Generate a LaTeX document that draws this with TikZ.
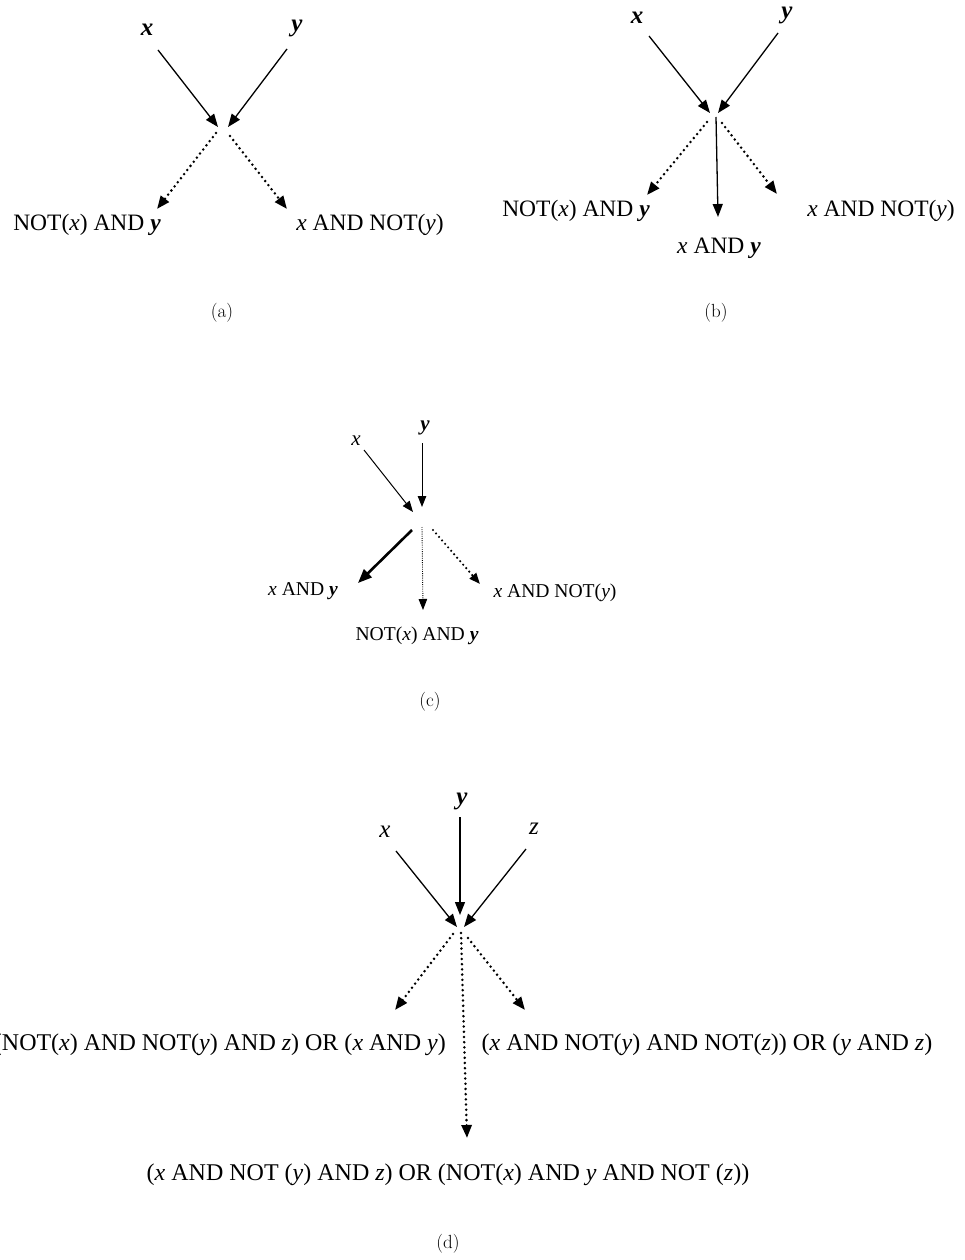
\documentclass[tikz,border=0pt]{standalone}
\usepackage{fontspec}
\newfontfamily\tnr{Liberation Serif}
\usetikzlibrary{arrows.meta}
\newcommand{\iv}[1]{{\itshape #1}}
\newcommand{\bv}[1]{{\bfseries\itshape #1}}
\begin{document}
\begin{tikzpicture}[x=1pt,y=-1pt,
  lab/.style={font={\tnr\fontsize{23.5}{26}\selectfont}, inner sep=0pt},
  labc/.style={font={\tnr\fontsize{19.6}{22}\selectfont}, inner sep=0pt},
  labd/.style={font={\tnr\fontsize{24}{27}\selectfont}, inner sep=0pt},
  var/.style={font={\tnr\fontsize{25}{27}\selectfont}, inner sep=0pt},
  varc/.style={font={\tnr\fontsize{21}{23}\selectfont}, inner sep=0pt},
  capt/.style={font={\fontsize{19}{21}\selectfont}, inner sep=0pt},
  tipbig/.style={-{Triangle[length=13pt,width=10pt]}},
  tipsmall/.style={-{Triangle[length=11pt,width=8.5pt]}},
  solidarr/.style={tipbig, line width=1.3pt},
  dotarr/.style={tipbig, line width=2.8pt, line cap=round, dash pattern=on 0pt off 5.2pt},
  solidarrc/.style={tipsmall, line width=1pt},
  dotarrc/.style={tipsmall, line width=2.4pt, line cap=round, dash pattern=on 0pt off 4.6pt},
  thinarrc/.style={tipsmall, line width=0.9pt, dash pattern=on 0.9pt off 1.3pt},
  thickarrc/.style={-{Triangle[length=14pt,width=11pt]}, line width=2.6pt},
]
\useasboundingbox (0,0) rectangle (964,1260);

% ---------------- (a) ----------------
\node[var] (ax) at (147,30) {\bv{x}};
\node[var] (ay) at (297,28) {\bv{y}};
\node[lab] (al) at (87,225) {NOT(\iv{x}) AND \bv{y}};
\node[lab] (ar) at (370,225) {\iv{x} AND NOT(\iv{y})};
\node[capt] (acap) at (222,313) {(a)};
\coordinate (axs) at (158,50);  \coordinate (axe) at (218,127);
\coordinate (ays) at (287,49);  \coordinate (aye) at (228,127);
\coordinate (als) at (216,133); \coordinate (ale) at (157,209);
\coordinate (ars) at (230,136); \coordinate (are) at (287,209);
\draw[solidarr] (axs) -- (axe);
\draw[solidarr] (ays) -- (aye);
\draw[dotarr] (als) -- (ale);
\draw[dotarr] (ars) -- (are);

% ---------------- (b) ----------------
\node[var] (bx) at (637,18) {\bv{x}};
\node[var] (by) at (787,15) {\bv{y}};
\node[lab] (bl) at (576,211) {NOT(\iv{x}) AND \bv{y}};
\node[lab] (bm) at (719,248) {\iv{x} AND \bv{y}};
\node[lab] (br) at (881,211) {\iv{x} AND NOT(\iv{y})};
\node[capt] (bcap) at (716,313) {(b)};
\coordinate (bxs) at (649,36);  \coordinate (bxe) at (710,113);
\coordinate (bys) at (778,33);  \coordinate (bye) at (718,113);
\coordinate (bms) at (716,117); \coordinate (bme) at (718,217);
\coordinate (bls) at (707,122); \coordinate (ble) at (647,195);
\coordinate (brs) at (722,123); \coordinate (bre) at (777,194);
\draw[solidarr] (bxs) -- (bxe);
\draw[solidarr] (bys) -- (bye);
\draw[solidarr] (bms) -- (bme);
\draw[dotarr] (bls) -- (ble);
\draw[dotarr] (brs) -- (bre);

% ---------------- (c) ----------------
\node[varc] (cx) at (356,441) {\iv{x}};
\node[varc] (cy) at (425,428) {\bv{y}};
\node[labc] (cl) at (303,591) {\iv{x} AND \bv{y}};
\node[labc] (cm) at (417,636) {NOT(\iv{x}) AND \bv{y}};
\node[labc] (cr) at (555,593) {\iv{x} AND NOT(\iv{y})};
\node[capt] (ccap) at (430,702) {(c)};
\coordinate (cxs) at (364,450); \coordinate (cxe) at (413,512);
\coordinate (cys) at (422,443); \coordinate (cye) at (422,507);
\coordinate (cls) at (412,530); \coordinate (cle) at (358,583);
\coordinate (cms) at (422,527); \coordinate (cme) at (423,610);
\coordinate (crs) at (433,530); \coordinate (cre) at (480,584);
\draw[solidarrc] (cxs) -- (cxe);
\draw[solidarrc] (cys) -- (cye);
\draw[thickarrc] (cls) -- (cle);
\draw[thinarrc] (cms) -- (cme);
\draw[dotarrc] (crs) -- (cre);

% ---------------- (d) ----------------
\node[var] (dx) at (385,832) {\iv{x}};
\node[var] (dy) at (462,801) {\bv{y}};
\node[var] (dz) at (534,829) {\iv{z}};
\node[labd, anchor=east] (dl) at (446,1045) {(NOT(\iv{x}) AND NOT(\iv{y}) AND \iv{z}) OR (\iv{x} AND \iv{y})};
\node[labd] (dr) at (707,1045) {(\iv{x} AND NOT(\iv{y}) AND NOT(\iv{z})) OR (\iv{y} AND \iv{z})};
\node[labd] (dm) at (448,1175) {(\iv{x} AND NOT (\iv{y}) AND \iv{z}) OR (NOT(\iv{x}) AND \iv{y} AND NOT (\iv{z}))};
\node[capt] (dcap) at (448,1244) {(d)};
\coordinate (dxs) at (396,851); \coordinate (dxe) at (457,927);
\coordinate (dys) at (460,817); \coordinate (dye) at (460,915);
\coordinate (dzs) at (526,849); \coordinate (dze) at (464,927);
\coordinate (dls) at (453,934); \coordinate (dle) at (395,1010);
\coordinate (dms) at (461,933); \coordinate (dme) at (467,1138);
\coordinate (drs) at (468,938); \coordinate (dre) at (525,1010);
\draw[solidarr] (dxs) -- (dxe);
\draw[solidarr] (dys) -- (dye);
\draw[solidarr] (dzs) -- (dze);
\draw[dotarr] (dls) -- (dle);
\draw[dotarr] (dms) -- (dme);
\draw[dotarr] (drs) -- (dre);
\end{tikzpicture}
\end{document}
